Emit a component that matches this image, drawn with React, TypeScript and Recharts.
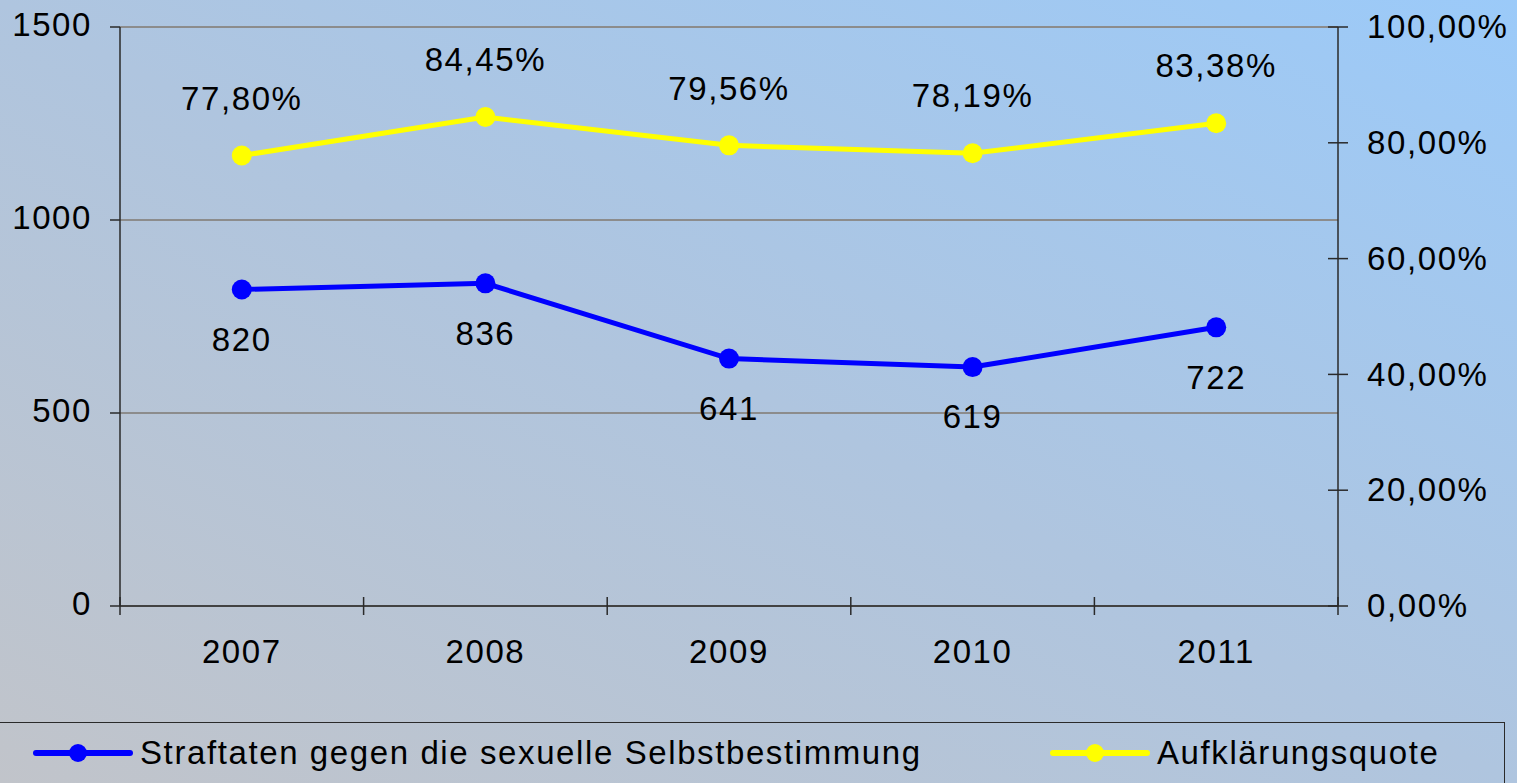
import React from 'react';
import { LineChart, Line, XAxis, YAxis, CartesianGrid, LabelList } from 'recharts';

const years = ['2007', '2008', '2009', '2010', '2011'];
const offences = [820, 836, 641, 619, 722];
const clearance = [77.8, 84.45, 79.56, 78.19, 83.38];
const leftTicks = [0, 500, 1000, 1500];
const rightTicks = [0, 20, 40, 60, 80, 100];

const series = [
  { key: 'offences', name: 'Straftaten gegen die sexuelle Selbstbestimmung', color: '#0000ff' },
  { key: 'clearance', name: 'Aufklärungsquote', color: '#ffff00' },
];

const data = years.map((year, i) => ({ year, offences: offences[i], clearance: clearance[i] }));

const W = 1517;
const H = 783;
const LEFT_W = 120;
const RIGHT_W = 179;
const X_H = 177;
const TOP = 27;
const BAND = (W - LEFT_W - RIGHT_W) / years.length;

const FONT = '"Liberation Sans", Arial, sans-serif';
const AXIS = '#2a2a2a';
const textStyle = { fontFamily: FONT, fontSize: 33, letterSpacing: 1.6, fill: '#000' };

const pct = (v: number) => v.toFixed(2).replace('.', ',') + '%';

const LeftTick = (p: any) => (
  <text x={p.x} y={p.y - 2} dy="0.34em" textAnchor="end" style={textStyle}>
    {p.payload.value}
  </text>
);

const RightTick = (p: any) => (
  <g>
    <line x1={p.x - 10} x2={p.x + 10} y1={p.y} y2={p.y} stroke={AXIS} strokeWidth={1.5} />
    <text x={p.x + 29} y={p.y} dy="0.34em" textAnchor="start" style={textStyle}>
      {pct(p.payload.value)}
    </text>
  </g>
);

const BottomTick = (p: any) => {
  const left = p.x - BAND / 2;
  const right = p.x + BAND / 2;
  const last = p.index === years.length - 1;
  return (
    <g>
      <line x1={left} x2={left} y1={p.y - 9} y2={p.y + 9} stroke={AXIS} strokeWidth={1.5} />
      {last && <line x1={right} x2={right} y1={p.y - 9} y2={p.y + 9} stroke={AXIS} strokeWidth={1.5} />}
      <text x={p.x} y={p.y + 46} dy="0.34em" textAnchor="middle" style={textStyle}>
        {p.payload.value}
      </text>
    </g>
  );
};

const belowLabel = (p: any) => (
  <text x={p.x} y={p.y + 50} dy="0.34em" textAnchor="middle" style={textStyle}>
    {p.value}
  </text>
);

const aboveLabel = (p: any) => (
  <text x={p.x} y={p.y - 57} dy="0.34em" textAnchor="middle" style={textStyle}>
    {pct(p.value)}
  </text>
);

function LegendBox() {
  const xs = [36, 1053];
  return (
    <div
      style={{
        position: 'absolute',
        top: 722,
        left: -2,
        width: 1507,
        height: 80,
        border: `1.5px solid ${AXIS}`,
        boxSizing: 'border-box',
      }}
    >
      {series.map((s, i) => (
        <div
          key={s.key}
          style={{ position: 'absolute', left: xs[i] - 2, top: 8, display: 'flex', alignItems: 'center', height: 44 }}
        >
          <svg width={100} height={24} style={{ display: 'block' }}>
            <line x1={3} x2={97} y1={12} y2={12} stroke={s.color} strokeWidth={6} strokeLinecap="round" />
            <circle cx={45} cy={12} r={9} fill={s.color} />
          </svg>
          <span style={{ fontFamily: FONT, fontSize: 33, letterSpacing: 1.6, marginLeft: 7, color: '#000', whiteSpace: 'nowrap' }}>
            {s.name}
          </span>
        </div>
      ))}
    </div>
  );
}

export default function App() {
  return (
    <div
      style={{
        position: 'absolute',
        top: 0,
        left: 0,
        width: W,
        height: H,
        overflow: 'hidden',
        background: 'linear-gradient(to top right, #c1c4ca 0%, #afc5df 50%, #9bcaf9 100%)',
      }}
    >
      <LineChart width={W} height={H} data={data} margin={{ top: TOP, right: 0, bottom: 0, left: 0 }}>
        <CartesianGrid yAxisId="left" vertical={false} stroke="#8c8c8c" strokeWidth={2} />
        <XAxis
          dataKey="year"
          height={X_H}
          padding={{ left: BAND / 2, right: BAND / 2 }}
          tickLine={false}
          tickSize={0}
          tickMargin={0}
          axisLine={{ stroke: AXIS, strokeWidth: 1.5 }}
          tick={BottomTick}
          interval={0}
        />
        <YAxis
          yAxisId="left"
          width={LEFT_W}
          domain={[0, 1500]}
          ticks={leftTicks}
          tickSize={10}
          tickMargin={18}
          tickLine={{ stroke: AXIS, strokeWidth: 1.5 }}
          axisLine={{ stroke: AXIS, strokeWidth: 1.5 }}
          tick={LeftTick}
        />
        <YAxis
          yAxisId="right"
          orientation="right"
          width={RIGHT_W}
          domain={[0, 100]}
          ticks={rightTicks}
          tickSize={0}
          tickMargin={0}
          tickLine={false}
          axisLine={{ stroke: AXIS, strokeWidth: 1.5 }}
          tick={RightTick}
        />
        <Line
          yAxisId="left"
          dataKey="offences"
          stroke={series[0].color}
          strokeWidth={5}
          dot={{ r: 10, fill: series[0].color, stroke: 'none' }}
          isAnimationActive={false}
        >
          <LabelList dataKey="offences" content={belowLabel} />
        </Line>
        <Line
          yAxisId="right"
          dataKey="clearance"
          stroke={series[1].color}
          strokeWidth={5}
          dot={{ r: 10, fill: series[1].color, stroke: 'none' }}
          isAnimationActive={false}
        >
          <LabelList dataKey="clearance" content={aboveLabel} />
        </Line>
      </LineChart>
      <LegendBox />
    </div>
  );
}
